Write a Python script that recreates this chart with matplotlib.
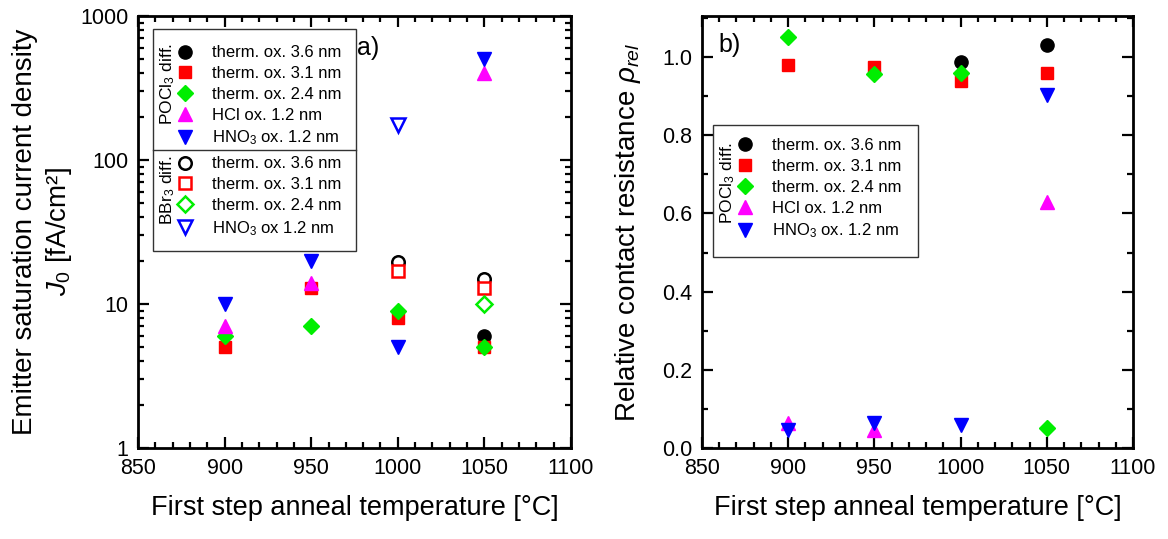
import matplotlib
matplotlib.use('Agg')
import matplotlib.pyplot as plt
import matplotlib.ticker as mticker
from matplotlib.lines import Line2D
from matplotlib.patches import Rectangle

plt.rcParams['font.family'] = ['Liberation Sans', 'DejaVu Sans']
plt.rcParams['mathtext.fontset'] = 'custom'
plt.rcParams['mathtext.rm'] = 'Liberation Sans'
plt.rcParams['mathtext.it'] = 'Liberation Sans:italic'
plt.rcParams['mathtext.bf'] = 'Liberation Sans:bold'

# ---------------- data: panel a) J0 [fA/cm2] ----------------
a_pocl3_th36_T = [1050]
a_pocl3_th36_J = [6.0]
a_pocl3_th31_T = [900, 950, 1000, 1050]
a_pocl3_th31_J = [5.0, 13.0, 8.0, 5.0]
a_pocl3_th24_T = [900, 950, 1000, 1050]
a_pocl3_th24_J = [6.0, 7.0, 9.0, 5.0]
a_pocl3_hcl_T = [900, 950, 1050]
a_pocl3_hcl_J = [7.0, 14.0, 400.0]
a_pocl3_hno3_T = [900, 950, 1000, 1050]
a_pocl3_hno3_J = [10.0, 20.0, 5.0, 500.0]

a_bbr3_th36_T = [1000, 1050]
a_bbr3_th36_J = [19.5, 15.0]
a_bbr3_th31_T = [1000, 1050]
a_bbr3_th31_J = [17.0, 13.0]
a_bbr3_th24_T = [1050]
a_bbr3_th24_J = [10.0]
a_bbr3_hno3_T = [1000]
a_bbr3_hno3_J = [175.0]

# ---------------- data: panel b) relative contact resistance ----------------
b_th36_T = [1000, 1050]
b_th36_R = [0.988, 1.03]
b_th31_T = [900, 950, 1000, 1050]
b_th31_R = [0.98, 0.975, 0.94, 0.96]
b_th24_T = [900, 950, 1000, 1050]
b_th24_R = [1.052, 0.957, 0.96, 0.05]
b_hcl_T = [900, 950, 1050]
b_hcl_R = [0.065, 0.046, 0.63]
b_hno3_T = [900, 950, 1000, 1050]
b_hno3_R = [0.046, 0.063, 0.06, 0.903]

labels_pocl3 = ['therm. ox. 3.6 nm', 'therm. ox. 3.1 nm', 'therm. ox. 2.4 nm',
                'HCl ox. 1.2 nm', r'HNO$_3$ ox. 1.2 nm']
labels_bbr3 = ['therm. ox. 3.6 nm', 'therm. ox. 3.1 nm', 'therm. ox. 2.4 nm',
               r'HNO$_3$ ox 1.2 nm']

colors = ['#000000', '#ff0000', '#00ee00', '#ff00ff', '#0000ff']
markers = ['o', 's', 'D', '^', 'v']
msizes = [9.5, 8.5, 8.5, 10, 10]

fig = plt.figure(figsize=(11.68, 5.39), dpi=100)
axA = fig.add_axes([138/1168, 1-448/539, 433/1168, 432/539])
axB = fig.add_axes([702/1168, 1-448/539, 431/1168, 432/539])

FS_TICK = 15.5
FS_XLAB = 19.5
FS_YLAB = 20
FS_LEG = 12

def style(ax):
    for s in ax.spines.values():
        s.set_linewidth(2)
    ax.tick_params(which='both', direction='in', top=True, right=True,
                   width=1.6, labelsize=FS_TICK, pad=7)
    ax.tick_params(which='major', length=8)
    ax.tick_params(which='minor', length=4.5)
    ax.set_xlim(850, 1100)
    ax.xaxis.set_major_locator(mticker.MultipleLocator(50))
    ax.xaxis.set_minor_locator(mticker.MultipleLocator(10))
    ax.set_xlabel('First step anneal temperature [°C]', fontsize=FS_XLAB, labelpad=12)

# ---------- panel a ----------
filled_a = [(a_pocl3_th36_T, a_pocl3_th36_J), (a_pocl3_th31_T, a_pocl3_th31_J),
            (a_pocl3_th24_T, a_pocl3_th24_J), (a_pocl3_hcl_T, a_pocl3_hcl_J),
            (a_pocl3_hno3_T, a_pocl3_hno3_J)]
open_a = [(a_bbr3_th36_T, a_bbr3_th36_J, 0), (a_bbr3_th31_T, a_bbr3_th31_J, 1),
          (a_bbr3_th24_T, a_bbr3_th24_J, 2), (a_bbr3_hno3_T, a_bbr3_hno3_J, 4)]

for i, (T, J) in enumerate(filled_a):
    axA.plot(T, J, linestyle='none', marker=markers[i], ms=msizes[i],
             color=colors[i], mec=colors[i], zorder=3)
for T, J, i in open_a:
    axA.plot(T, J, linestyle='none', marker=markers[i], ms=msizes[i]-0.5,
             mfc='white', mec=colors[i], mew=1.8, zorder=3)

axA.set_yscale('log')
axA.set_ylim(1, 1000)
axA.yaxis.set_major_locator(mticker.LogLocator(base=10, numticks=10))
axA.yaxis.set_minor_locator(mticker.LogLocator(base=10, subs=range(2, 10), numticks=20))
axA.yaxis.set_minor_formatter(mticker.NullFormatter())
axA.yaxis.set_major_formatter(mticker.FuncFormatter(lambda v, p: '%d' % round(v)))
style(axA)
axA.set_ylabel('Emitter saturation current density\n$J_0$ [fA/cm²]',
               fontsize=FS_YLAB, labelpad=4, linespacing=1.3)
axA.text(0.531, 0.926, 'a)', transform=axA.transAxes, fontsize=18,
         ha='center', va='center')

# legend box for panel a
axA.add_patch(Rectangle((0.0346, 0.456), 0.469, 0.514, transform=axA.transAxes,
                        facecolor='white', edgecolor='#333333', lw=1.0, zorder=4))
axA.plot([0.0346, 0.5036], [0.690, 0.690], transform=axA.transAxes,
         color='#333333', lw=1.0, zorder=4.5)

h_pocl3 = [Line2D([], [], linestyle='none', marker=markers[i], ms=msizes[i],
                  color=colors[i]) for i in range(5)]
h_bbr3 = [Line2D([], [], linestyle='none', marker=markers[i], ms=msizes[i]-0.5,
                 mfc='white', mec=colors[i], mew=1.8) for i in (0, 1, 2, 4)]

LS = 0.35
legA1 = axA.legend(h_pocl3, labels_pocl3, loc='upper left',
                   bbox_to_anchor=(0.0893, 0.932), frameon=False, fontsize=FS_LEG,
                   borderpad=0, borderaxespad=0, handlelength=1.0,
                   handletextpad=1.1, labelspacing=LS)
axA.add_artist(legA1)
legA2 = axA.legend(h_bbr3, labels_bbr3, loc='upper left',
                   bbox_to_anchor=(0.0893, 0.675), frameon=False, fontsize=FS_LEG,
                   borderpad=0, borderaxespad=0, handlelength=1.0,
                   handletextpad=1.1, labelspacing=LS)
axA.text(0.069, 0.843, r'POCl$_3$ diff.', rotation=90, transform=axA.transAxes,
         fontsize=12.5, ha='center', va='center', zorder=6)
axA.text(0.069, 0.597, r'BBr$_3$ diff.', rotation=90, transform=axA.transAxes,
         fontsize=12.5, ha='center', va='center', zorder=6)

# ---------- panel b ----------
series_b = [(b_th36_T, b_th36_R), (b_th31_T, b_th31_R), (b_th24_T, b_th24_R),
            (b_hcl_T, b_hcl_R), (b_hno3_T, b_hno3_R)]
for i, (T, R) in enumerate(series_b):
    axB.plot(T, R, linestyle='none', marker=markers[i], ms=msizes[i],
             color=colors[i], mec=colors[i], zorder=3)
axB.set_ylim(0, 1.105)
axB.yaxis.set_major_locator(mticker.MultipleLocator(0.2))
axB.yaxis.set_minor_locator(mticker.MultipleLocator(0.1))
axB.yaxis.set_major_formatter(mticker.FormatStrFormatter('%.1f'))
style(axB)
axB.set_ylabel(r'Relative contact resistance $\rho_{rel}$', fontsize=FS_YLAB, labelpad=14)
axB.text(0.065, 0.933, 'b)', transform=axB.transAxes, fontsize=18,
         ha='center', va='center')

axB.add_patch(Rectangle((0.0255, 0.442), 0.4755, 0.306, transform=axB.transAxes,
                        facecolor='white', edgecolor='#333333', lw=1.0, zorder=4))
legB = axB.legend(h_pocl3, labels_pocl3, loc='upper left',
                  bbox_to_anchor=(0.0804, 0.717), frameon=False, fontsize=FS_LEG,
                  borderpad=0, borderaxespad=0, handlelength=1.0,
                  handletextpad=1.15, labelspacing=LS)
axB.text(0.060, 0.613, r'POCl$_3$ diff.', rotation=90, transform=axB.transAxes,
         fontsize=12.5, ha='center', va='center', zorder=6)

fig.savefig('out.png', dpi=100)
